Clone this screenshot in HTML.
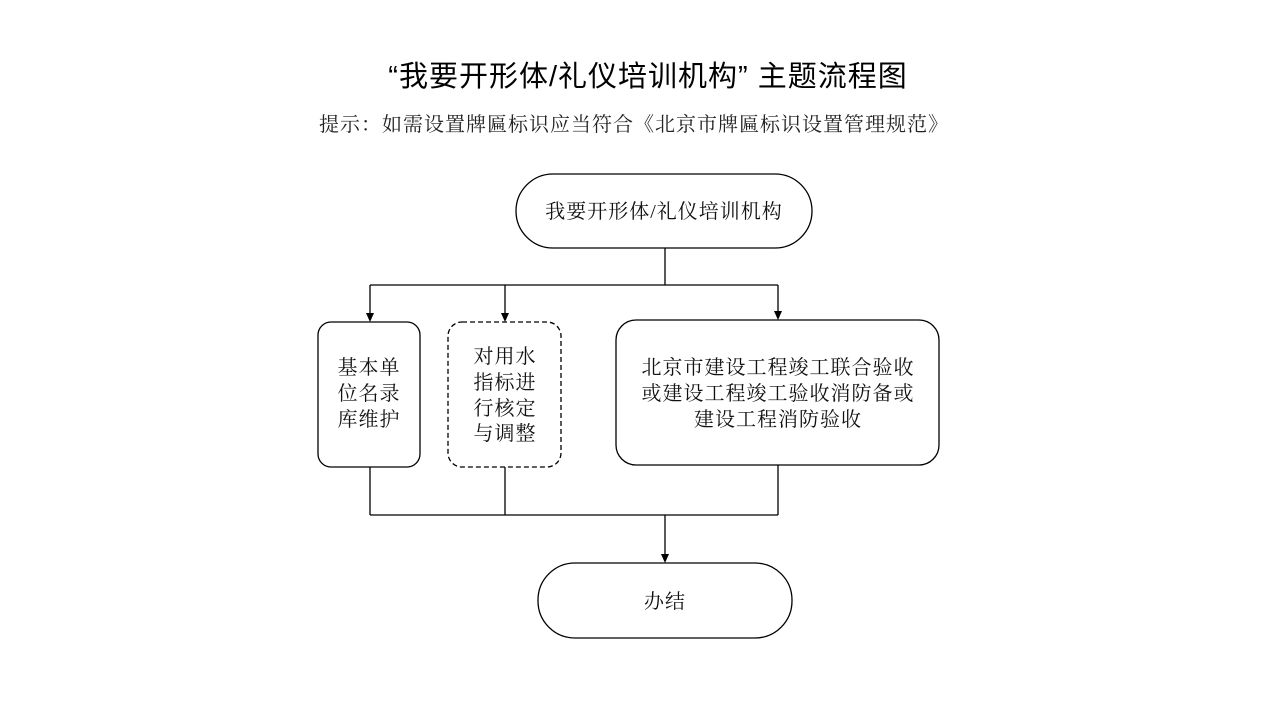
<!DOCTYPE html>
<html><head><meta charset="utf-8"><style>
body{margin:0;background:#fff;}
svg{display:block}
.t{font-family:"Liberation Serif","Noto Serif CJK SC",serif;font-size:20px;letter-spacing:1px;fill:#111;text-anchor:middle}
</style></head><body>
<svg width="1280" height="720" xmlns="http://www.w3.org/2000/svg">
<text x="648" y="86" text-anchor="middle" style="font-family:'Liberation Sans','Noto Sans CJK SC',sans-serif;font-size:29px;letter-spacing:1px" fill="#000">“我要开形体/礼仪培训机构” 主题流程图</text>
<text x="634" y="131" text-anchor="middle" style="font-family:'Liberation Serif','Noto Serif CJK SC',serif;font-size:20px;letter-spacing:1px" fill="#222">提示：如需设置牌匾标识应当符合《北京市牌匾标识设置管理规范》</text>
<g fill="none" stroke="#000" stroke-width="1.3">
<rect x="516" y="174" width="296" height="74" rx="37"/>
<rect x="318" y="322" width="102" height="145" rx="13"/>
<rect x="448" y="322" width="113" height="145" rx="14" stroke-dasharray="5,3"/>
<rect x="616" y="320" width="323" height="145" rx="20"/>
<rect x="538" y="563" width="254" height="75" rx="37"/>
<path d="M665,248 V285 M370,285 H778"/>
<path d="M370,285 V314 M505,285 V314 M778,285 V312"/>
<path d="M370,467 V515 M505,467 V515 M778,465 V515 M370,515 H778"/>
<path d="M665,515 V555"/>
</g>
<g fill="#000">
<polygon points="366,313 374,313 370,322"/>
<polygon points="501,313 509,313 505,322"/>
<polygon points="774,311 782,311 778,320"/>
<polygon points="661,554 669,554 665,563"/>
</g>
<text class="t" x="664" y="218">我要开形体/礼仪培训机构</text>
<text class="t" x="369" y="374">基本单</text>
<text class="t" x="369" y="400">位名录</text>
<text class="t" x="369" y="426">库维护</text>
<text class="t" x="505" y="363">对用水</text>
<text class="t" x="505" y="389">指标进</text>
<text class="t" x="505" y="415">行核定</text>
<text class="t" x="505" y="440">与调整</text>
<text class="t" x="778" y="374">北京市建设工程竣工联合验收</text>
<text class="t" x="778" y="400">或建设工程竣工验收消防备或</text>
<text class="t" x="778" y="426">建设工程消防验收</text>
<text class="t" x="665" y="608">办结</text>
</svg>
</body></html>
